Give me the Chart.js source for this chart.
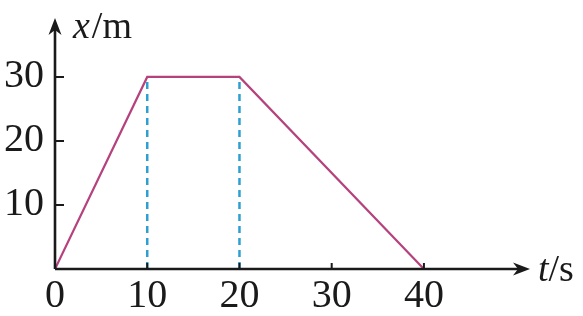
<!DOCTYPE html>
<html>
<head>
<meta charset="utf-8">
<script src="https://cdn.jsdelivr.net/npm/chart.js@4"></script>
<style>
  html, body { margin: 0; padding: 0; background: #fff; }
  #wrap { width: 583px; height: 316px; }
</style>
</head>
<body>
<div id="wrap"><canvas id="c"></canvas></div>
<script>
// x-t graph data
var tValues = [0, 10, 20, 40];
var xValues = [0, 30, 30, 0];
var dashT = [10, 20];
var dashTop = 30;
var xTicks = [0, 10, 20, 30, 40];
var yTicks = [10, 20, 30];

var LINE = '#b6427d';
var DASH = '#2e9fd0';
var AXIS = '#1a1a1a';
var FONT = "'Liberation Serif', 'Times New Roman', Times, serif";

var curve = tValues.map(function (t, i) { return { x: t, y: xValues[i] }; });
var dashSets = dashT.map(function (t) {
    return {
        data: [{ x: t, y: 0 }, { x: t, y: dashTop }],
        borderColor: DASH, borderWidth: 2.5, borderDash: [7, 5],
        pointRadius: 0, showLine: true, fill: false,
    };
});

/* axes, arrows, inward ticks, axis titles */
var axisPlugin = {
    id: 'axisPlugin',
    afterDatasetsDraw: function (chart) {
        var ctx = chart.ctx;
        var xs = chart.scales.x, ys = chart.scales.y;
        var x0 = xs.getPixelForValue(0), y0 = ys.getPixelForValue(0);
        var right = chart.chartArea.right, top = chart.chartArea.top;
        ctx.save();
        ctx.strokeStyle = AXIS; ctx.fillStyle = AXIS; ctx.lineWidth = 2.6;
        ctx.beginPath();
        ctx.moveTo(x0, y0); ctx.lineTo(right - 6, y0);
        ctx.moveTo(x0, y0); ctx.lineTo(x0, top + 6);
        ctx.stroke();
        ctx.lineWidth = 2;
        ctx.beginPath();
        yTicks.forEach(function (v) {
            var p = ys.getPixelForValue(v);
            ctx.moveTo(x0, p); ctx.lineTo(x0 + 9, p);
        });
        xTicks.forEach(function (v) {
            if (v === 0) return;
            var p = xs.getPixelForValue(v);
            ctx.moveTo(p, y0); ctx.lineTo(p, y0 - 6);
        });
        ctx.stroke();
        // arrow heads
        ctx.beginPath();
        ctx.moveTo(right, y0); ctx.lineTo(right - 17, y0 - 6.5);
        ctx.lineTo(right - 12, y0); ctx.lineTo(right - 17, y0 + 6.5); ctx.closePath();
        ctx.moveTo(x0, top); ctx.lineTo(x0 - 6.5, top + 17);
        ctx.lineTo(x0, top + 12); ctx.lineTo(x0 + 6.5, top + 17); ctx.closePath();
        ctx.fill();
        // titles
        ctx.textBaseline = 'alphabetic'; ctx.textAlign = 'left';
        ctx.font = 'italic 38px ' + FONT;
        ctx.fillText('x', x0 + 18, top + 20);
        var w = ctx.measureText('x').width;
        ctx.font = '38px ' + FONT;
        ctx.fillText('/m', x0 + 20 + w, top + 20);
        ctx.font = 'italic 38px ' + FONT;
        ctx.fillText('t', right + 8, y0 + 12);
        w = ctx.measureText('t').width;
        ctx.font = '38px ' + FONT;
        ctx.fillText('/s', right + 8 + w, y0 + 12);
        ctx.restore();
    },
};

new Chart(document.getElementById('c'), {
    type: 'scatter',
    data: {
        datasets: [{
            data: curve,
            borderColor: LINE, borderWidth: 2.2,
            pointRadius: 0, showLine: true, fill: false, tension: 0,
        }].concat(dashSets),
    },
    options: {
        responsive: true,
        maintainAspectRatio: false,
        animation: false,
        layout: { padding: { left: 0, right: 53, top: 18, bottom: 0 } },
        plugins: { legend: { display: false }, tooltip: { enabled: false } },
        scales: {
            x: {
                type: 'linear', min: 0, max: 51.5,
                afterBuildTicks: function (s) { s.ticks = xTicks.map(function (v) { return { value: v }; }); },
                afterFit: function (s) { s.height = 47; s.paddingLeft = 0; s.paddingRight = 0; },
                grid: { display: false, drawTicks: false }, border: { display: false },
                ticks: { font: { family: FONT, size: 40, lineHeight: 1 }, color: AXIS, padding: 7, maxRotation: 0, autoSkip: false },
            },
            y: {
                type: 'linear', min: 0, max: 39.2,
                afterBuildTicks: function (s) { s.ticks = yTicks.map(function (v) { return { value: v }; }); },
                afterFit: function (s) { s.width = 55; s.paddingTop = 0; s.paddingBottom = 0; },
                grid: { display: false, drawTicks: false }, border: { display: false },
                ticks: { font: { family: FONT, size: 40, lineHeight: 1 }, color: AXIS, padding: 11, autoSkip: false },
            },
        },
    },
    plugins: [axisPlugin],
});
</script>
</body>
</html>
